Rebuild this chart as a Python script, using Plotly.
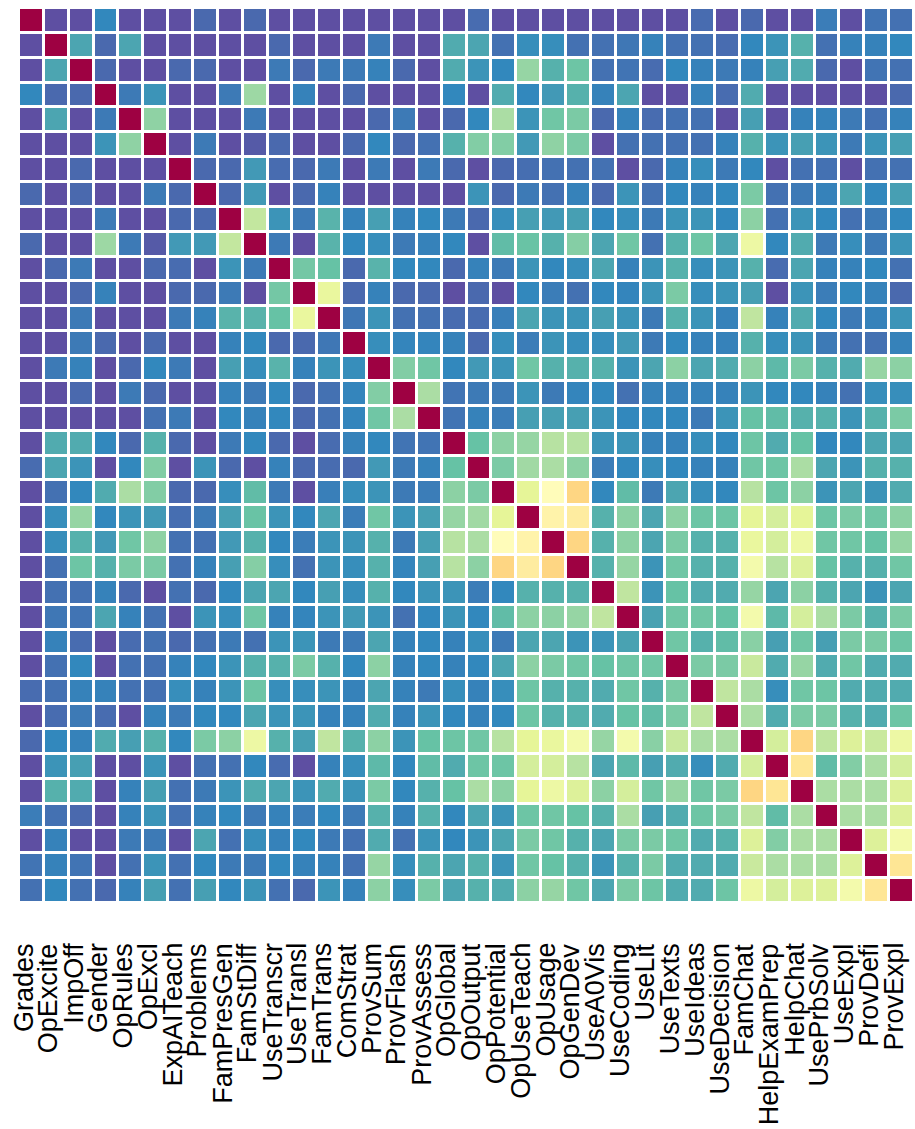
import numpy as np
import plotly.graph_objects as go

labels = [
    "Grades", "OpExcite", "ImpOff", "Gender", "OpRules", "OpExcl", "ExpAITeach",
    "Problems", "FamPresGen", "FamStDiff", "UseTranscr", "UseTransl", "FamTrans",
    "ComStrat", "ProvSum", "ProvFlash", "ProvAssess", "OpGlobal", "OpOutput",
    "OpPotential", "OpUseTeach", "OpUsage", "OpGenDev", "UseA0Vis", "UseCoding",
    "UseLit", "UseTexts", "UseIdeas", "UseDecision", "FamChat", "HelpExamPrep",
    "HelpChat", "UsePrbSolv", "UseExpl", "ProvDefi", "ProvExpl",
]

# Lower triangle of the association matrix (row i holds columns 0..i-1)
lower = [
    [],
    [0.0],
    [0.0, 0.15],
    [0.10, 0.045, 0.045],
    [0.0, 0.15, 0.0, 0.075],
    [0.0, 0.0, 0.0, 0.12, 0.26],
    [0.0, 0.0, 0.045, 0.0, 0.0, 0.0],
    [0.045, 0.0, 0.045, 0.0, 0.0, 0.075, 0.045],
    [0.0, 0.0, 0.0, 0.075, 0.0, 0.0, 0.045, 0.045],
    [0.045, 0.0, 0.0, 0.28, 0.075, 0.02, 0.13, 0.13, 0.34],
    [0.0, 0.045, 0.075, 0.0, 0.0, 0.045, 0.05, 0.0, 0.12, 0.075],
    [0.0, 0.0, 0.045, 0.09, 0.0, 0.0, 0.045, 0.045, 0.075, 0.0, 0.22],
    [0.0, 0.0, 0.075, 0.0, 0.0, 0.0, 0.075, 0.09, 0.175, 0.175, 0.20, 0.415],
    [0.0, 0.0, 0.075, 0.045, 0.0, 0.045, 0.0, 0.0, 0.09, 0.10, 0.045, 0.045,
     0.07],
    [0.0, 0.075, 0.09, 0.0, 0.045, 0.10, 0.075, 0.0, 0.14, 0.11, 0.175, 0.09,
     0.12, 0.11],
    [0.0, 0.0, 0.045, 0.0, 0.075, 0.045, 0.0, 0.0, 0.09, 0.075, 0.10, 0.045,
     0.06, 0.095, 0.24],
    [0.0, 0.0, 0.0, 0.0, 0.0, 0.06, 0.075, 0.0, 0.10, 0.09, 0.10, 0.045,
     0.06, 0.095, 0.215, 0.30],
    [0.0, 0.16, 0.16, 0.10, 0.045, 0.17, 0.045, 0.0, 0.075, 0.10, 0.045, 0.0,
     0.05, 0.09, 0.10, 0.065, 0.065],
    [0.05, 0.15, 0.12, 0.0, 0.10, 0.24, 0.0, 0.12, 0.045, 0.0, 0.09, 0.045,
     0.05, 0.045, 0.13, 0.075, 0.09, 0.20],
    [0.0, 0.06, 0.10, 0.16, 0.30, 0.24, 0.045, 0.045, 0.11, 0.19, 0.075, 0.0,
     0.085, 0.11, 0.12, 0.075, 0.08, 0.255, 0.23],
    [0.0, 0.11, 0.27, 0.10, 0.12, 0.13, 0.055, 0.075, 0.14, 0.205, 0.12, 0.10,
     0.15, 0.08, 0.215, 0.12, 0.14, 0.27, 0.285, 0.40],
    [0.0, 0.11, 0.17, 0.13, 0.215, 0.26, 0.06, 0.06, 0.13, 0.17, 0.10, 0.08,
     0.12, 0.12, 0.17, 0.075, 0.14, 0.32, 0.30, 0.51, 0.54],
    [0.0, 0.06, 0.21, 0.17, 0.23, 0.23, 0.06, 0.09, 0.14, 0.245, 0.11, 0.06,
     0.12, 0.11, 0.17, 0.095, 0.14, 0.32, 0.255, 0.62, 0.56, 0.62],
    [0.0, 0.06, 0.06, 0.09, 0.045, 0.0, 0.06, 0.045, 0.10, 0.15, 0.15, 0.10,
     0.14, 0.11, 0.17, 0.10, 0.12, 0.12, 0.08, 0.10, 0.17, 0.17, 0.17],
    [0.0, 0.07, 0.065, 0.15, 0.09, 0.06, 0.0, 0.12, 0.11, 0.215, 0.09, 0.095,
     0.12, 0.13, 0.12, 0.06, 0.10, 0.12, 0.10, 0.19, 0.255, 0.255, 0.27, 0.335],
    [0.0, 0.09, 0.05, 0.0, 0.05, 0.06, 0.045, 0.06, 0.075, 0.06, 0.12, 0.12,
     0.075, 0.075, 0.15, 0.09, 0.10, 0.09, 0.11, 0.075, 0.15, 0.15, 0.12, 0.12,
     0.145],
    [0.0, 0.06, 0.10, 0.0, 0.06, 0.06, 0.09, 0.10, 0.12, 0.17, 0.17, 0.23,
     0.17, 0.10, 0.255, 0.09, 0.10, 0.09, 0.10, 0.15, 0.255, 0.23, 0.215, 0.20,
     0.215, 0.215],
    [0.05, 0.06, 0.09, 0.09, 0.06, 0.06, 0.11, 0.09, 0.12, 0.21, 0.11, 0.11,
     0.12, 0.09, 0.15, 0.09, 0.075, 0.11, 0.09, 0.11, 0.21, 0.17, 0.17, 0.16,
     0.215, 0.17, 0.23],
    [0.0, 0.05, 0.075, 0.05, 0.0, 0.09, 0.075, 0.10, 0.10, 0.15, 0.12, 0.12,
     0.09, 0.09, 0.16, 0.09, 0.12, 0.10, 0.09, 0.10, 0.21, 0.17, 0.17, 0.16,
     0.20, 0.19, 0.23, 0.335],
    [0.045, 0.10, 0.09, 0.16, 0.14, 0.17, 0.10, 0.23, 0.255, 0.43, 0.17, 0.14,
     0.335, 0.17, 0.255, 0.12, 0.20, 0.21, 0.215, 0.32, 0.40, 0.415, 0.45, 0.27,
     0.45, 0.25, 0.35, 0.30, 0.30],
    [0.0, 0.12, 0.14, 0.0, 0.0, 0.12, 0.0, 0.06, 0.06, 0.10, 0.05, 0.0,
     0.09, 0.11, 0.185, 0.10, 0.19, 0.16, 0.21, 0.21, 0.37, 0.37, 0.32, 0.15,
     0.185, 0.14, 0.16, 0.11, 0.16, 0.37],
    [0.0, 0.17, 0.16, 0.0, 0.09, 0.14, 0.06, 0.075, 0.12, 0.16, 0.15, 0.12,
     0.16, 0.12, 0.23, 0.10, 0.17, 0.20, 0.30, 0.255, 0.40, 0.43, 0.385, 0.255,
     0.37, 0.215, 0.27, 0.215, 0.23, 0.62, 0.58],
    [0.08, 0.06, 0.045, 0.0, 0.09, 0.12, 0.06, 0.09, 0.10, 0.075, 0.09, 0.08,
     0.10, 0.075, 0.17, 0.09, 0.17, 0.10, 0.15, 0.12, 0.21, 0.215, 0.20, 0.17,
     0.30, 0.14, 0.16, 0.21, 0.23, 0.335, 0.19, 0.30],
    [0.0, 0.09, 0.0, 0.0, 0.075, 0.075, 0.0, 0.15, 0.06, 0.11, 0.09, 0.10,
     0.075, 0.06, 0.16, 0.06, 0.12, 0.10, 0.12, 0.15, 0.23, 0.215, 0.17, 0.15,
     0.23, 0.23, 0.215, 0.16, 0.17, 0.385, 0.24, 0.30, 0.30],
    [0.065, 0.09, 0.065, 0.0, 0.06, 0.12, 0.06, 0.10, 0.075, 0.075, 0.10, 0.09,
     0.09, 0.06, 0.27, 0.11, 0.17, 0.15, 0.17, 0.12, 0.215, 0.20, 0.17, 0.12,
     0.17, 0.23, 0.16, 0.16, 0.16, 0.35, 0.30, 0.30, 0.30, 0.385],
    [0.06, 0.10, 0.06, 0.045, 0.09, 0.14, 0.06, 0.14, 0.10, 0.12, 0.06, 0.045,
     0.12, 0.09, 0.255, 0.11, 0.23, 0.15, 0.17, 0.16, 0.255, 0.27, 0.215, 0.15,
     0.23, 0.21, 0.16, 0.16, 0.21, 0.43, 0.37, 0.385, 0.385, 0.45, 0.58],
]

spectral = ["#9e0142", "#d53e4f", "#f46d43", "#fdae61", "#fee08b", "#ffffbf",
            "#e6f598", "#abdda4", "#66c2a5", "#3288bd", "#5e4fa2"]

n = len(labels)
mat = np.eye(n)
for i, row in enumerate(lower):
    for j, v in enumerate(row):
        mat[i, j] = v
        mat[j, i] = v

colorscale = [[k / (len(spectral) - 1), c] for k, c in enumerate(spectral[::-1])]

fig = go.Figure(go.Heatmap(
    z=mat,
    x=list(range(n)),
    y=list(range(n)),
    zmin=0, zmax=1,
    colorscale=colorscale,
    showscale=False,
    xgap=3, ygap=3,
    hovertemplate="%{customdata}<extra></extra>",
    customdata=[[f"{labels[i]} / {labels[j]}: {mat[i, j]:.2f}" for j in range(n)]
                for i in range(n)],
))

# Vertical variable names under the columns, ends aligned just below the grid
for i, name in enumerate(labels):
    fig.add_annotation(
        x=i, xref="x", y=0, yref="paper",
        text=name, textangle=-90, showarrow=False,
        xanchor="center", yanchor="top",
        xshift=-8, yshift=-38,
        font=dict(family="Liberation Sans, Arial, sans-serif", size=27,
                  color="black"),
    )

fig.update_layout(
    width=915, height=1129,
    margin=dict(l=19, r=1, t=8, b=226),
    paper_bgcolor="white", plot_bgcolor="white",
    font=dict(family="Liberation Sans, Arial, sans-serif", color="black"),
)
fig.update_xaxes(
    showticklabels=False, showgrid=False, zeroline=False, showline=False,
    range=[-0.5, n - 0.5],
)
fig.update_yaxes(
    showticklabels=False, showgrid=False, zeroline=False, showline=False,
    autorange="reversed",
)

fig.write_html("out.html")
